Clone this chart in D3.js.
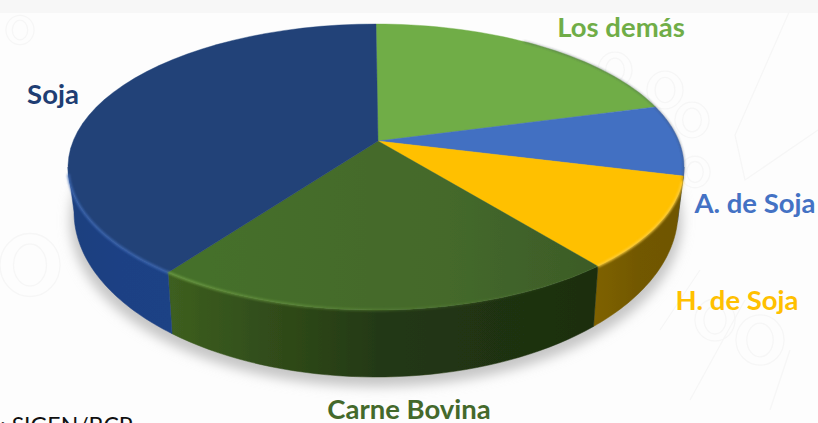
<!DOCTYPE html>
<html><head><meta charset="utf-8">
<script src="https://cdn.jsdelivr.net/npm/d3@7/dist/d3.min.js"></script>
<style>html,body{margin:0;padding:0;background:#fdfdfd;overflow:hidden}svg{display:block}text{font-family:Lato,"Open Sans",sans-serif}</style>
</head><body><svg id="c" width="818" height="423"></svg>
<script>
const categories = ["Los demás","A. de Soja","H. de Soja","Carne Bovina","Soja"];
const shares = [18.1,7.9,11.2,24.6,38.2];
const topColors = ["#70ad47","#4370c2","#ffc000","#44692b","#214278"];
const sideLeft = ["#5a8a38","#345a9c","#7f6204","#3d5f20","#1d3f7e"];
const sideRight = ["#5a8a38","#345a9c","#6f5600","#1c2e10","#1f4285"];
const edgeColors = ["#8cc464","#6a92dc","#ffd040","#6fa044","#3f69b4"];
const labelColors = ["#70ad47","#4472c4","#ffc000","#44692b","#1f3e73"];
const labelX = [621,755,737,409,53];
const labelY = [37,213,310,419,104];

const svg = d3.select("#c");
const defs = svg.append("defs");
defs.append("filter").attr("id","soft").attr("x","-5%").attr("y","-5%").attr("width","110%").attr("height","110%")
  .append("feGaussianBlur").attr("stdDeviation",0.7);
defs.append("filter").attr("id","shadow").attr("x","-10%").attr("y","-10%").attr("width","120%").attr("height","120%")
  .append("feGaussianBlur").attr("stdDeviation",6);
const edgeBlur = defs.append("filter").attr("id","edgeblur").attr("x","-5%").attr("y","-20%").attr("width","110%").attr("height","140%");
edgeBlur.append("feGaussianBlur").attr("stdDeviation",1.1);

svg.append("rect").attr("width",818).attr("height",423).attr("fill","#fdfdfd");
svg.append("rect").attr("width",818).attr("height",13).attr("fill","#f7f7f7");

// faint background doodles
const marks = svg.append("g").attr("fill","none").attr("stroke","#f6f6f6").attr("stroke-width",1.3);
[[615,70,17],[665,90,18],[692,120,17],[695,172,15],[20,30,14],[30,265,30],[715,320,20],[760,340,24]].forEach(([x,y,r])=>{
  marks.append("ellipse").attr("cx",x).attr("cy",y).attr("rx",r).attr("ry",r*1.05);
  marks.append("ellipse").attr("cx",x).attr("cy",y).attr("rx",r*.55).attr("ry",r*.7);
});
marks.append("path").attr("d","M790 10 L735 135 L745 180 L818 130");
marks.append("path").attr("d","M660 330 L700 270 M690 400 L745 300 M790 350 L770 410");

const pieGen = d3.pie().sort(null).value(d=>d).startAngle(0).endAngle(2*Math.PI);
const arcs = pieGen(shares);

const topE = {cx:376,cy:167,rx:308,ry:143};
const botE = {cx:376,cy:212,rx:302,ry:165};
const apex = [378,141];
const pt = (e,a)=>[e.cx+e.rx*Math.sin(a), e.cy-e.ry*Math.cos(a)];
const samples = (a0,a1)=>d3.range(0,41).map(i=>a0+(a1-a0)*i/40);
const line = d3.line();

// drop shadow
svg.append("ellipse").attr("cx",376).attr("cy",221).attr("rx",306).attr("ry",166)
  .attr("fill","#c6c6c6").attr("filter","url(#shadow)");

const chart = svg.append("g").attr("filter","url(#soft)");

// side walls on front half only
const F0 = Math.PI/2, F1 = 3*Math.PI/2;
arcs.forEach((d,i)=>{
  const a0 = Math.max(d.startAngle,F0), a1 = Math.min(d.endAngle,F1);
  if (a1<=a0) return;
  const s = samples(a0,a1);
  const poly = s.map(a=>pt(topE,a)).concat(s.slice().reverse().map(a=>pt(botE,a)));
  const xs = poly.map(p=>p[0]);
  const id = "side"+i;
  const g = defs.append("linearGradient").attr("id",id).attr("gradientUnits","userSpaceOnUse")
    .attr("x1",d3.min(xs)).attr("x2",d3.max(xs)).attr("y1",0).attr("y2",0);
  g.append("stop").attr("offset",0).attr("stop-color",sideLeft[i]);
  g.append("stop").attr("offset",0.5).attr("stop-color",d3.interpolateRgb(sideLeft[i],sideRight[i])(0.8));
  g.append("stop").attr("offset",1).attr("stop-color",sideRight[i]);
  chart.append("path").attr("d",line(poly)+"Z").attr("fill",`url(#${id})`).attr("stroke",`url(#${id})`).attr("stroke-width",.5);
});

// top faces
const carneIdx = 3;
const tg = defs.append("linearGradient").attr("id","carneTop").attr("gradientUnits","userSpaceOnUse")
  .attr("x1",170).attr("x2",600).attr("y1",0).attr("y2",0);
tg.append("stop").attr("offset",0).attr("stop-color","#44702a");
tg.append("stop").attr("offset",0.65).attr("stop-color","#44692b");
tg.append("stop").attr("offset",1).attr("stop-color","#3c5b27");
arcs.forEach((d,i)=>{
  const s = samples(d.startAngle,d.endAngle);
  const poly = [apex].concat(s.map(a=>pt(topE,a)));
  chart.append("path").attr("d",line(poly)+"Z")
    .attr("fill",i===carneIdx?"url(#carneTop)":topColors[i])
    .attr("stroke",topColors[i]).attr("stroke-width",.4);
});

// thin dark line on the back right rim
const rimBack = samples(0.5,F0+.1).map(a=>pt(topE,a));
svg.append("path").attr("d",line(rimBack)).attr("fill","none").attr("stroke","#3c4650").attr("stroke-opacity",.55).attr("stroke-width",1.2).attr("filter","url(#edgeblur)");

// light bevel along the rim of the front half
const rim = svg.append("g").attr("fill","none").attr("filter","url(#edgeblur)");
arcs.forEach((d,i)=>{
  const a0 = Math.max(d.startAngle,F0+.1), a1 = Math.min(d.endAngle,F1-.05);
  if (a1<=a0) return;
  const s = samples(a0,a1);
  const id = "rim"+i;
  const pts = s.map(a=>pt(topE,a));
  const g = defs.append("linearGradient").attr("id",id).attr("gradientUnits","userSpaceOnUse")
    .attr("x1",pts[0][0]).attr("x2",pts[pts.length-1][0]).attr("y1",0).attr("y2",0);
  const fadeEnd = i===carneIdx ? 1 : 0;
  g.append("stop").attr("offset",0).attr("stop-color",edgeColors[i]).attr("stop-opacity",i===carneIdx?0:.9);
  g.append("stop").attr("offset",i===carneIdx?.45:.5).attr("stop-color",edgeColors[i]).attr("stop-opacity",i===carneIdx?.25:.9);
  g.append("stop").attr("offset",fadeEnd).attr("stop-color",edgeColors[i]).attr("stop-opacity",.9);
  rim.append("path").attr("d",line(pts)).attr("stroke",`url(#${id})`).attr("stroke-width",2.4);
});

// labels
const labels = svg.append("g").attr("font-weight",700).attr("font-size",27.5).attr("text-anchor","middle");
categories.forEach((c,i)=>{
  labels.append("text").attr("x",labelX[i]).attr("y",labelY[i]).attr("fill",labelColors[i]).text(c);
});
svg.append("text").attr("x",0).attr("y",434).attr("font-size",23).attr("fill","#111").text(": SIGEN/BCP");
</script></body></html>
